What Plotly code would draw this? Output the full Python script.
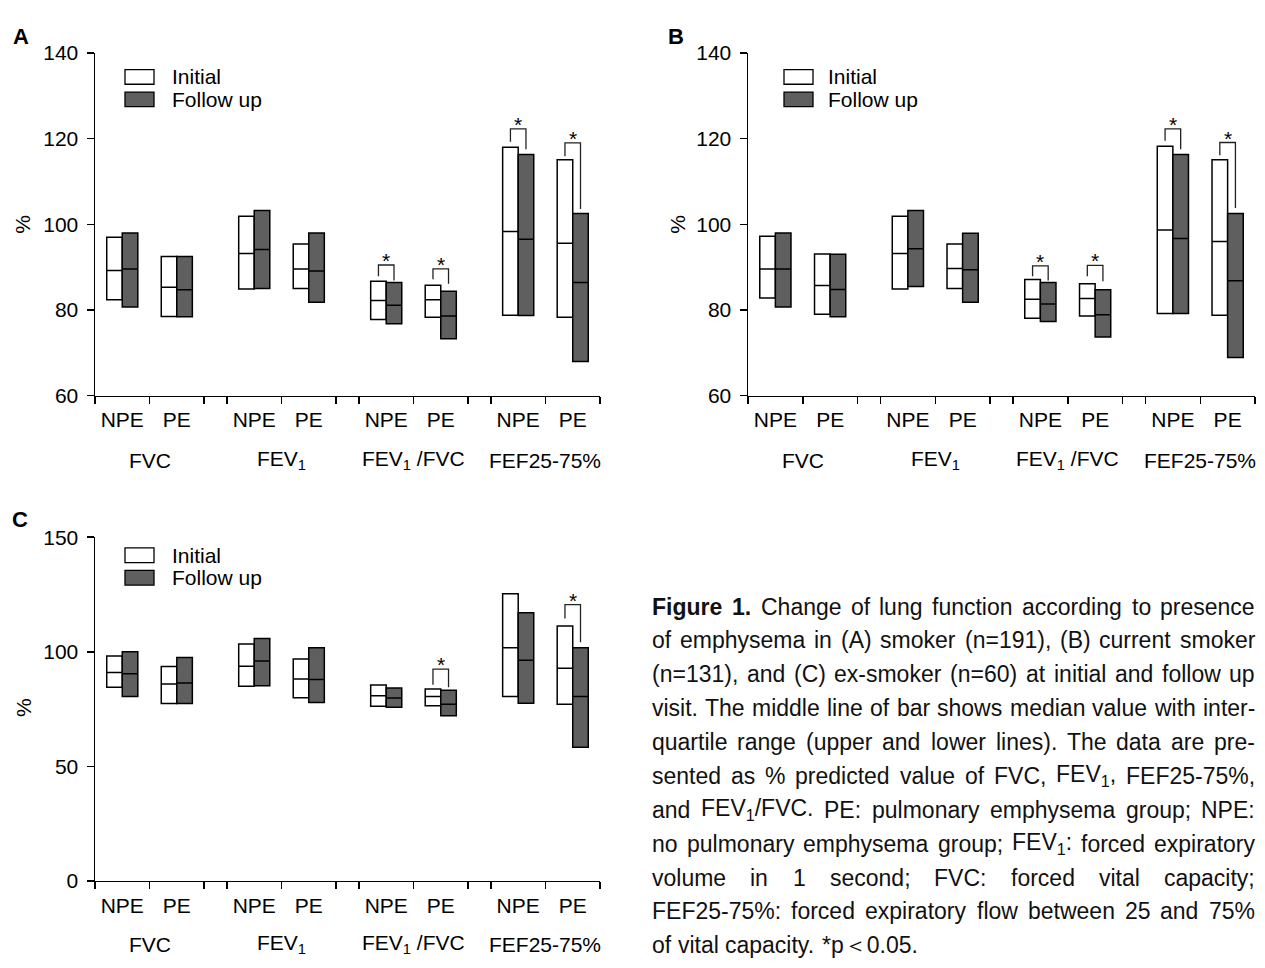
import plotly.graph_objects as go

W, H = 1265, 968
FONT = "Liberation Sans, Arial, sans-serif"

# ---------------- data ----------------
group_labels = ["FVC", "FEV<sub>1</sub>", "FEV<sub>1</sub> /FVC", "FEF25-75%"]
sub_labels = ["NPE", "PE"]
series_names = ["Initial", "Follow up"]

# order: FVC NPE, FVC PE, FEV1 NPE, FEV1 PE, FEV1/FVC NPE, FEV1/FVC PE, FEF NPE, FEF PE
# Panel A: smoker (n=191)
A_init_q1 = [82.4, 78.5, 84.9, 85.0, 77.8, 78.3, 78.8, 78.3]
A_init_med = [89.2, 85.3, 93.2, 89.6, 82.2, 82.4, 98.3, 95.6]
A_init_q3 = [97.0, 92.5, 101.9, 95.4, 86.7, 85.8, 118.0, 115.1]
A_fu_q1 = [80.7, 78.4, 85.0, 81.8, 76.8, 73.3, 78.7, 68.0]
A_fu_med = [89.6, 84.7, 94.1, 89.1, 81.1, 78.6, 96.5, 86.4]
A_fu_q3 = [98.0, 92.5, 103.2, 98.0, 86.4, 84.4, 116.3, 102.5]
A_sig_idx = [4, 5, 6, 7]
A_sig_top = [90.5, 89.6, 122.3, 119.0]
A_sig_left = [87.9, 87.2, 119.3, 115.9]
A_sig_right = [86.9, 86.1, 117.5, 103.6]

# Panel B: current smoker (n=131)
B_init_q1 = [82.8, 79.0, 84.9, 85.0, 78.1, 78.6, 79.2, 78.8]
B_init_med = [89.6, 85.7, 93.2, 89.7, 82.5, 82.7, 98.7, 96.0]
B_init_q3 = [97.2, 93.1, 101.9, 95.4, 87.1, 86.1, 118.2, 115.1]
B_fu_q1 = [80.7, 78.4, 85.5, 81.8, 77.3, 73.7, 79.2, 68.9]
B_fu_med = [89.6, 84.8, 94.3, 89.4, 81.4, 78.9, 96.7, 86.8]
B_fu_q3 = [98.0, 93.0, 103.2, 97.9, 86.4, 84.7, 116.3, 102.5]
B_sig_idx = [4, 5, 6, 7]
B_sig_top = [90.3, 90.4, 122.3, 119.1]
B_sig_left = [87.9, 87.9, 119.5, 116.1]
B_sig_right = [86.9, 86.7, 117.5, 103.8]

# Panel C: ex-smoker (n=60)
C_init_q1 = [84.5, 77.4, 84.9, 79.9, 76.2, 76.4, 80.5, 77.1]
C_init_med = [91.0, 85.9, 93.7, 88.1, 80.8, 80.5, 101.7, 92.8]
C_init_q3 = [98.1, 93.6, 103.4, 96.8, 85.5, 83.7, 125.3, 111.3]
C_fu_q1 = [80.5, 77.4, 85.2, 77.8, 75.8, 72.1, 77.5, 58.3]
C_fu_med = [90.4, 86.4, 96.0, 87.9, 79.8, 77.1, 96.3, 80.5]
C_fu_q3 = [100.0, 97.5, 105.8, 101.8, 84.2, 83.2, 117.0, 101.8]
C_sig_idx = [5, 7]
C_sig_top = [92.4, 120.6]
C_sig_left = [85.6, 114.5]
C_sig_right = [84.5, 104.1]

caption_lines = [
    "<b>Figure</b> <b>1.</b> Change of lung function according to presence",
    "of emphysema in (A) smoker (n=191), (B) current smoker",
    "(n=131), and (C) ex-smoker (n=60) at initial and follow up",
    "visit. The middle line of bar shows median value with inter-",
    "quartile range (upper and lower lines). The data are pre-",
    "sented as % predicted value of FVC, FEV<sub>1</sub>, FEF25-75%,",
    "and FEV<sub>1</sub>/FVC. PE: pulmonary emphysema group; NPE:",
    "no pulmonary emphysema group; FEV<sub>1</sub>: forced expiratory",
    "volume in 1 second; FVC: forced vital capacity;",
    "FEF25-75%: forced expiratory flow between 25 and 75%",
    "of vital capacity. *p\uff1c0.05.",
]

# ---------------- layout helpers ----------------
GAP = 0.42
BOXW = 0.285
CC = []
BOUND = []
for g in range(4):
    s = g * (2 + GAP)
    CC += [s + 0.5, s + 1.5]
    BOUND += [s, s + 1, s + 2]
X_END = 8 + 3 * GAP
GC = [g * (2 + GAP) + 1 for g in range(4)]
TXT = 21


def px(x):
    return x / W


def py(y):
    return 1 - y / H


panels = [
    dict(s="", letter="A", lx=21, ly=25, xd=(95, 600), yd=(42, 393), yr=(60, 140),
         tv=[60, 80, 100, 120, 140], pct=(23, 218), leg=(125, 59, 172), grp_y=459,
         d=(A_init_q1, A_init_med, A_init_q3, A_fu_q1, A_fu_med, A_fu_q3),
         sig=(A_sig_idx, A_sig_top, A_sig_left, A_sig_right)),
    dict(s="2", letter="B", lx=676, ly=25, xd=(748, 1255), yd=(42, 393), yr=(60, 140),
         tv=[60, 80, 100, 120, 140], pct=(678, 218), leg=(784, 59, 828), grp_y=459,
         d=(B_init_q1, B_init_med, B_init_q3, B_fu_q1, B_fu_med, B_fu_q3),
         sig=(B_sig_idx, B_sig_top, B_sig_left, B_sig_right)),
    dict(s="3", letter="C", lx=20, ly=520, xd=(95, 600), yd=(538, 890), yr=(0, 150),
         tv=[0, 50, 100, 150], pct=(23, 713), leg=(125, 549, 172), grp_y=955,
         d=(C_init_q1, C_init_med, C_init_q3, C_fu_q1, C_fu_med, C_fu_q3),
         sig=(C_sig_idx, C_sig_top, C_sig_left, C_sig_right)),
]

fig = go.Figure()
annotations = []
shapes = []
layout = dict(
    width=W, height=H, margin=dict(l=0, r=0, t=0, b=0),
    paper_bgcolor="white", plot_bgcolor="white", showlegend=False,
    font=dict(family=FONT, size=TXT, color="black"),
    boxmode="overlay",
)

for p in panels:
    s = p["s"]
    xa, ya = "x" + s, "y" + s
    iq1, imed, iq3, fq1, fmed, fq3 = p["d"]
    fig.add_trace(go.Box(
        x=[c - BOXW / 2 for c in CC], q1=iq1, median=imed, q3=iq3,
        lowerfence=iq1, upperfence=iq3, width=BOXW, whiskerwidth=0,
        fillcolor="white", line=dict(color="black", width=1.5),
        name=series_names[0], xaxis=xa, yaxis=ya, hoverinfo="skip"))
    fig.add_trace(go.Box(
        x=[c + BOXW / 2 for c in CC], q1=fq1, median=fmed, q3=fq3,
        lowerfence=fq1, upperfence=fq3, width=BOXW, whiskerwidth=0,
        fillcolor="#5f5f5f", line=dict(color="black", width=1.5),
        name=series_names[1], xaxis=xa, yaxis=ya, hoverinfo="skip"))

    # significance brackets
    idx, top, left, right = p["sig"]
    bx, by = [], []
    for k, i in enumerate(idx):
        xl = CC[i] - BOXW / 2
        xr = CC[i] + BOXW / 2
        bx += [xl, xl, xr, xr, None]
        by += [left[k], top[k], top[k], right[k], None]
        annotations.append(dict(x=CC[i], y=top[k], xref=xa, yref=ya, text="*",
                                showarrow=False, yanchor="bottom", yshift=-9,
                                font=dict(size=TXT, color="black")))
    fig.add_trace(go.Scatter(x=bx, y=by, mode="lines", xaxis=xa, yaxis=ya,
                             line=dict(color="#222222", width=1.3), hoverinfo="skip"))

    layout["xaxis" + s] = dict(
        domain=[px(p["xd"][0]), px(p["xd"][1])], range=[0, X_END], anchor=ya,
        tickmode="array", tickvals=CC, ticktext=sub_labels * 4, ticks="",
        ticklabelstandoff=5,
        showline=True, linecolor="black", linewidth=1.5, showgrid=False, zeroline=False,
        tickfont=dict(size=TXT, color="black", family=FONT), fixedrange=True,
        minor=dict(tickmode="array", tickvals=BOUND, ticks="outside", ticklen=7,
                   tickwidth=1.5, tickcolor="black", showgrid=False),
    )
    layout["yaxis" + s] = dict(
        domain=[py(p["yd"][1]), py(p["yd"][0])], range=list(p["yr"]), anchor=xa,
        tickmode="array", tickvals=p["tv"], ticks="outside", ticklen=7, tickwidth=1.5,
        tickcolor="black", ticklabelstandoff=4,
        showline=True, linecolor="black", linewidth=1.5, showgrid=False, zeroline=False,
        tickfont=dict(size=TXT, color="black", family=FONT), fixedrange=True,
    )

    # group labels
    for g, lab in enumerate(group_labels):
        annotations.append(dict(x=GC[g], y=py(p["grp_y"]), xref=xa, yref="paper",
                                text=lab, showarrow=False, yanchor="middle",
                                font=dict(size=TXT, color="black")))
    # panel letter
    annotations.append(dict(x=px(p["lx"]), y=py(p["ly"]), xref="paper", yref="paper",
                            text="<b>" + p["letter"] + "</b>", showarrow=False,
                            xanchor="center", yanchor="middle",
                            font=dict(size=22, color="black")))
    # % label
    annotations.append(dict(x=px(p["pct"][0]), y=py(p["pct"][1]), xref="paper", yref="paper",
                            text="%", textangle=-90, showarrow=False,
                            xanchor="center", yanchor="middle",
                            font=dict(size=TXT, color="black")))
    # legend
    lx0, ly0, tx = p["leg"]
    for j, (fc, nm) in enumerate([("white", series_names[0]), ("#5f5f5f", series_names[1])]):
        y0 = ly0 + j * 23
        shapes.append(dict(type="rect", xref="paper", yref="paper",
                           x0=px(lx0), x1=px(lx0 + 29), y0=py(y0 + 15), y1=py(y0),
                           fillcolor=fc, line=dict(color="black", width=1.3)))
        annotations.append(dict(x=px(tx - 2), y=py(y0 + 7.5), xref="paper", yref="paper",
                                text=nm, showarrow=False, xanchor="left", yanchor="middle",
                                font=dict(size=TXT, color="black")))

# ---------------- caption (justified word by word) ----------------
AW = {}
for chs, w in [(" !,./:;If t[]", 278), ("ijl", 222), ("()-r", 333), ("*", 389),
               ("cksvxyzJ", 500), ("0123456789abdeghnopquL?$#_", 556), ("+<=>~", 584),
               ("FTZ", 611), ("ABEKPSVXY", 667), ("CDHNRUw", 722), ("GOQ", 778),
               ("Mm", 833), ("%", 889), ("W", 944), ("\uff1c", 1000)]:
    for ch in chs:
        AW[ch] = w
BW = {"F": 611, "i": 278, "g": 611, "u": 611, "r": 389, "e": 556, "1": 556, ".": 278}

CAP_SIZE = 23
CAP_X0, CAP_X1 = 652, 1255
CAP_Y0, CAP_DY = 609, 34.7


def word_width(wd, size):
    total = 0.0
    bold = False
    sub = False
    i = 0
    while i < len(wd):
        if wd.startswith("<b>", i):
            bold = True; i += 3; continue
        if wd.startswith("</b>", i):
            bold = False; i += 4; continue
        if wd.startswith("<sub>", i):
            sub = True; i += 5; continue
        if wd.startswith("</sub>", i):
            sub = False; i += 6; continue
        ch = wd[i]
        w = BW.get(ch, AW.get(ch, 556) * 1.05) if bold else AW.get(ch, 556)
        if sub:
            w *= 0.7
        total += w
        i += 1
    return total * size / 1000.0


space_w = 278 * CAP_SIZE / 1000.0
for li, line in enumerate(caption_lines):
    words = line.split(" ")
    widths = [word_width(wd, CAP_SIZE) for wd in words]
    if li < len(caption_lines) - 1 and len(words) > 1:
        gap = (CAP_X1 - CAP_X0 - sum(widths)) / (len(words) - 1)
    else:
        gap = space_w
    xpos = CAP_X0
    yc = CAP_Y0 + li * CAP_DY
    for wd, wdt in zip(words, widths):
        annotations.append(dict(x=px(xpos), y=py(yc), xref="paper", yref="paper",
                                text=wd, showarrow=False, xanchor="left", yanchor="middle",
                                borderpad=0, borderwidth=0,
                                font=dict(size=CAP_SIZE, color="#111111", family=FONT)))
        xpos += wdt + gap

layout["annotations"] = annotations
layout["shapes"] = shapes
fig.update_layout(**layout)
fig.write_html(
    "out.html",
    config={"displayModeBar": False, "staticPlot": True},
    post_script="document.body.style.margin='0px';document.body.style.overflow='hidden';",
)
